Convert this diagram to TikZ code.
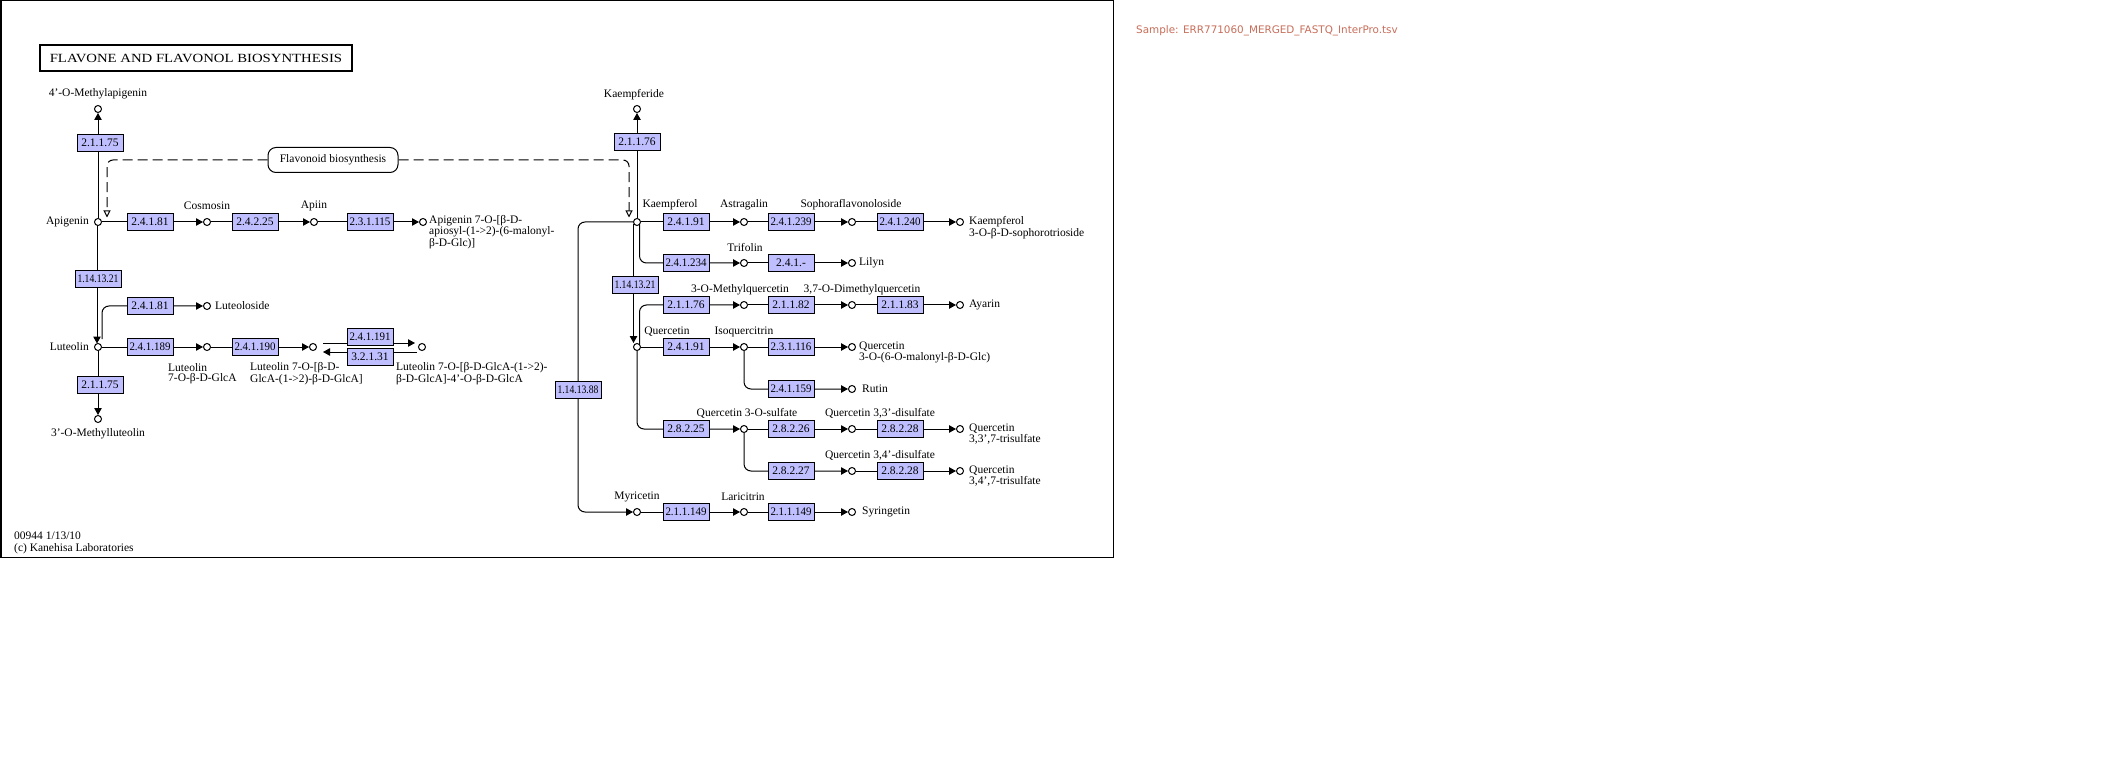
\documentclass[tikz,border=0pt]{standalone}
\usepackage{fontspec}
\setmainfont{Liberation Serif}
\newfontfamily\samplefont{DejaVu Sans}
\usepackage{graphicx}
\usetikzlibrary{arrows.meta,calc}
\definecolor{ecblue}{RGB}{191,191,255}
\definecolor{samplecol}{RGB}{200,110,90}
\newsavebox\ecsbox
\newcommand\ecn[1]{\sbox\ecsbox{#1}\ifdim\wd\ecsbox>41pt\relax\resizebox{41pt}{\height}{#1}\else\usebox\ecsbox\fi}
\pgfdeclarelayer{bg}
\pgfsetlayers{bg,main}
\tikzset{
  ec/.style={draw, fill=ecblue, minimum width=46pt, minimum height=17pt, inner sep=0pt, line width=1pt, font=\fontsize{11.5}{12}\selectfont},
  cpd/.style={circle, draw, fill=white, minimum size=7pt, inner sep=0pt, line width=1pt},
  lbl/.style={inner sep=0pt, align=left, font=\fontsize{11.5}{10.5}\selectfont},
  rx/.style={line width=1pt, -{Triangle[length=7pt,width=7.5pt]}},
  dsh/.style={line width=1pt, dash pattern=on 10pt off 5pt, -{Triangle[open,length=7pt,width=7pt]}},
  mapbox/.style={draw, fill=white, rounded corners=8pt, minimum width=130pt, minimum height=25pt, inner sep=0pt, line width=1pt, font=\fontsize{11.5}{12}\selectfont}
}
\begin{document}
\begin{tikzpicture}[x=1pt,y=-1pt]
\useasboundingbox (0,0) rectangle (2115,759);
\begin{pgfonlayer}{bg}
\fill[white] (0,0) rectangle (2115,759);
\end{pgfonlayer}
\draw[line width=1.5pt] (0.75,0.75) rectangle (1113.5,557.5);

% title
\node[draw, line width=2.5pt, minimum width=312pt, minimum height=26pt, inner sep=0pt] (title) at (196,58)
  {\fontsize{12.5}{12.5}\selectfont\scalebox{1.18}[1]{FLAVONE AND FLAVONOL BIOSYNTHESIS}};
\node[anchor=west, inner sep=0pt, text=samplecol, font=\samplefont\fontsize{10.4}{12}\selectfont] (sample) at (1136,31)
  {Sample: ERR771060\_MERGED\_FASTQ\_InterPro.tsv};
\node[lbl, anchor=west, font=\fontsize{11.5}{12}\selectfont] (foot) at (14,543) {00944 1/13/10\\(c) Kanehisa Laboratories};

% map link
\node[mapbox] (fb) at (333,160) {Flavonoid biosynthesis};

% compounds left
\node[cpd] (m4) at (98,109) {};
\node[cpd] (api) at (98,222) {};
\node[cpd] (cosm) at (207,222) {};
\node[cpd] (apiin) at (314,222) {};
\node[cpd] (apimal) at (423,222) {};
\node[cpd] (lut) at (98,347) {};
\node[cpd] (luto) at (207,306) {};
\node[cpd] (lutg) at (207,347) {};
\node[cpd] (lutgg) at (313,347) {};
\node[cpd] (lutggg) at (422,347) {};
\node[cpd] (melut) at (98,419) {};

% compounds right
\node[cpd] (kaempfd) at (637,109) {};
\node[cpd] (kaempf) at (637,222) {};
\node[cpd] (astr) at (744,222) {};
\node[cpd] (soph) at (852,222) {};
\node[cpd] (ksoph) at (960,222) {};
\node[cpd] (trif) at (744,263) {};
\node[cpd] (lilyn) at (852,263) {};
\node[cpd] (mq) at (744,305) {};
\node[cpd] (dmq) at (852,305) {};
\node[cpd] (ayarin) at (960,305) {};
\node[cpd] (quer) at (637,347) {};
\node[cpd] (isoq) at (744,347) {};
\node[cpd] (qmal) at (852,347) {};
\node[cpd] (rutin) at (852,389) {};
\node[cpd] (qs) at (744,429) {};
\node[cpd] (qds1) at (852,429) {};
\node[cpd] (qts1) at (960,429) {};
\node[cpd] (qds2) at (852,471) {};
\node[cpd] (qts2) at (960,471) {};
\node[cpd] (myr) at (637,512) {};
\node[cpd] (lar) at (744,512) {};
\node[cpd] (syr) at (852,512) {};

% enzymes left
\node[ec] (e1) at (100,143) {\ecn{2.1.1.75}};
\node[ec] (e2) at (150,222) {\ecn{2.4.1.81}};
\node[ec] (e3) at (255,222) {\ecn{2.4.2.25}};
\node[ec] (e4) at (370,222) {\ecn{2.3.1.115}};
\node[ec] (e5) at (98,279) {\ecn{1.14.13.21}};
\node[ec] (e6) at (150,306) {\ecn{2.4.1.81}};
\node[ec] (e7) at (150,347) {\ecn{2.4.1.189}};
\node[ec] (e8) at (255,347) {\ecn{2.4.1.190}};
\node[ec] (e9) at (370,337) {\ecn{2.4.1.191}};
\node[ec] (e10) at (370,357) {\ecn{3.2.1.31}};
\node[ec] (e11) at (100,385) {\ecn{2.1.1.75}};

% enzymes right
\node[ec] (k1) at (637,142) {\ecn{2.1.1.76}};
\node[ec] (k2) at (686,222) {\ecn{2.4.1.91}};
\node[ec] (k3) at (791,222) {\ecn{2.4.1.239}};
\node[ec] (k4) at (900,222) {\ecn{2.4.1.240}};
\node[ec] (k5) at (686,263) {\ecn{2.4.1.234}};
\node[ec] (k6) at (791,263) {\ecn{2.4.1.-}};
\node[ec] (k7) at (635,285) {\ecn{1.14.13.21}};
\node[ec] (k8) at (686,305) {\ecn{2.1.1.76}};
\node[ec] (k9) at (791,305) {\ecn{2.1.1.82}};
\node[ec] (k10) at (900,305) {\ecn{2.1.1.83}};
\node[ec] (k11) at (578,390) {\ecn{1.14.13.88}};
\node[ec] (q1) at (686,347) {\ecn{2.4.1.91}};
\node[ec] (q2) at (791,347) {\ecn{2.3.1.116}};
\node[ec] (q3) at (791,389) {\ecn{2.4.1.159}};
\node[ec] (q4) at (686,429) {\ecn{2.8.2.25}};
\node[ec] (q5) at (791,429) {\ecn{2.8.2.26}};
\node[ec] (q6) at (900,429) {\ecn{2.8.2.28}};
\node[ec] (q7) at (791,471) {\ecn{2.8.2.27}};
\node[ec] (q8) at (900,471) {\ecn{2.8.2.28}};
\node[ec] (m1) at (686,512) {\ecn{2.1.1.149}};
\node[ec] (m2) at (791,512) {\ecn{2.1.1.149}};

% labels left
\node[lbl] (m4l) at (98,94) {4'-O-Methylapigenin};
\node[lbl, anchor=east] (apil) at (89,222) {Apigenin};
\node[lbl] (cosml) at (207,206) {Cosmosin};
\node[lbl] (apiinl) at (314,206) {Apiin};
\node[lbl, anchor=west, font=\fontsize{11.5}{10}\selectfont] (apimall) at (429,232) {Apigenin 7-O-[β-D-\\apiosyl-(1->2)-(6-malonyl-\\β-D-Glc)]};
\node[lbl, anchor=east] (lutl) at (89,347) {Luteolin};
\node[lbl, anchor=west] (lutol) at (215,306) {Luteoloside};
\node[lbl, anchor=west] (lutgl) at (168,373.5) {Luteolin\\7-O-β-D-GlcA};
\node[lbl, anchor=west] (lutggl) at (250,373.5) {Luteolin 7-O-[β-D-\\GlcA-(1->2)-β-D-GlcA]};
\node[lbl, anchor=west] (lutgggl) at (396,373.5) {Luteolin 7-O-[β-D-GlcA-(1->2)-\\β-D-GlcA]-4'-O-β-D-GlcA};
\node[lbl] (melutl) at (98,434) {3'-O-Methylluteolin};

% labels right
\node[lbl] (kaempfdl) at (634,95) {Kaempferide};
\node[lbl] (kaempfl) at (670,205) {Kaempferol};
\node[lbl] (astrl) at (744,205) {Astragalin};
\node[lbl] (sophl) at (851,205) {Sophoraflavonoloside};
\node[lbl, anchor=west] (ksophl) at (969,227.5) {Kaempferol\\3-O-β-D-sophorotrioside};
\node[lbl] (trifl) at (745,248) {Trifolin};
\node[lbl, anchor=west] (lilynl) at (859,263) {Lilyn};
\node[lbl] (mql) at (740,290) {3-O-Methylquercetin};
\node[lbl] (dmql) at (862,290) {3,7-O-Dimethylquercetin};
\node[lbl, anchor=west] (ayarinl) at (969,305) {Ayarin};
\node[lbl] (querl) at (667,332) {Quercetin};
\node[lbl] (isoql) at (744,332) {Isoquercitrin};
\node[lbl, anchor=west] (qmall) at (859,352.5) {Quercetin\\3-O-(6-O-malonyl-β-D-Glc)};
\node[lbl, anchor=west] (rutinl) at (862,389) {Rutin};
\node[lbl] (qsl) at (747,413) {Quercetin 3-O-sulfate};
\node[lbl] (qds1l) at (880,413) {Quercetin 3,3'-disulfate};
\node[lbl, anchor=west] (qts1l) at (969,434) {Quercetin\\3,3',7-trisulfate};
\node[lbl] (qds2l) at (880,455) {Quercetin 3,4'-disulfate};
\node[lbl, anchor=west] (qts2l) at (969,476) {Quercetin\\3,4',7-trisulfate};
\node[lbl] (myrl) at (637,497) {Myricetin};
\node[lbl] (larl) at (743,497) {Laricitrin};
\node[lbl, anchor=west] (syrl) at (862,512) {Syringetin};

% connectors (behind)
\begin{pgfonlayer}{bg}
\draw[dsh, rounded corners=6pt] (fb.west) -| ($(api)+(9,-4.5)$);
\draw[dsh, rounded corners=6pt] (fb.east) -| ($(kaempf)+(-8,-4.5)$);

\draw[rx] (api) -- (m4);
\draw[rx] (api) -- (cosm);
\draw[rx] (cosm) -- (apiin);
\draw[rx] (apiin) -- (apimal);
\draw[rx] ($(api)+(-1,3)$) -- ($(lut)+(-1,-3.5)$);
\draw[rx, rounded corners=7pt] ($(lut)+(4,-8)$) |- (luto);
\draw[rx] (lut) -- (lutg);
\draw[rx] (lutg) -- (lutgg);
\draw[rx] ($(lutgg)+(10,-4)$) -- ($(lutggg)+(-7,-4)$);
\draw[rx] ($(lutggg)+(-5,5)$) -- ($(lutgg)+(10,5)$);
\draw[rx] (lut) -- (melut);

\draw[rx] (kaempf) -- (kaempfd);
\draw[rx] (kaempf) -- (astr);
\draw[rx] (astr) -- (soph);
\draw[rx] (soph) -- (ksoph);
\draw[rx, rounded corners=7pt] ($(kaempf)+(2.5,3)$) |- (trif);
\draw[rx] (trif) -- (lilyn);
\draw[rx] ($(kaempf)+(-3.5,2)$) -- ($(quer)+(-3.5,-4)$);
\draw[rx, rounded corners=7pt] ($(quer)+(2.5,-3)$) |- (mq);
\draw[rx] (mq) -- (dmq);
\draw[rx] (dmq) -- (ayarin);
\draw[rx] (quer) -- (isoq);
\draw[rx] (isoq) -- (qmal);
\draw[rx, rounded corners=7pt] (isoq) |- (rutin);
\draw[rx, rounded corners=7pt] (quer) |- (qs);
\draw[rx] (qs) -- (qds1);
\draw[rx] (qds1) -- (qts1);
\draw[rx, rounded corners=7pt] (qs) |- (qds2);
\draw[rx] (qds2) -- (qts2);
\draw[rx, rounded corners=7pt] (kaempf) -| (k11) |- (myr);
\draw[rx] (myr) -- (lar);
\draw[rx] (lar) -- (syr);
\end{pgfonlayer}
\end{tikzpicture}
\end{document}
